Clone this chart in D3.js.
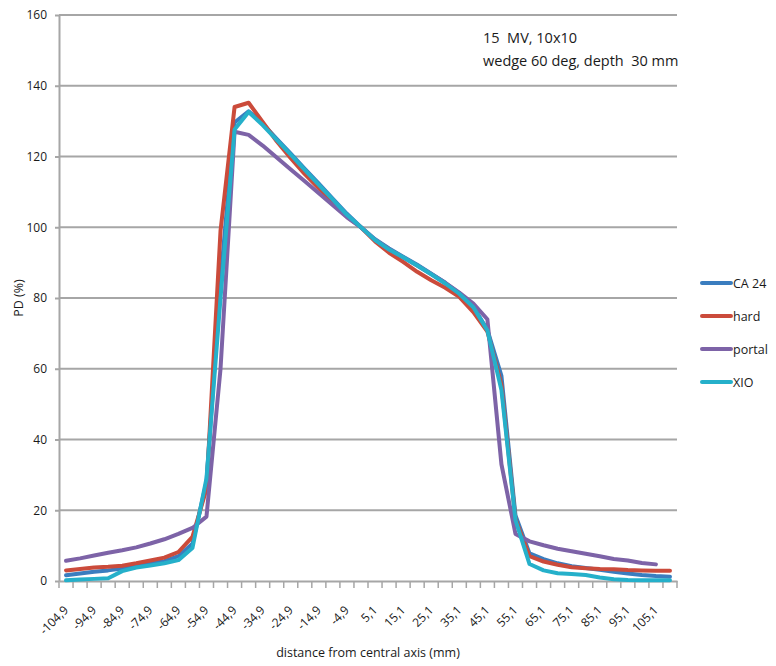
<!DOCTYPE html>
<html>
<head>
<meta charset="utf-8">
<script src="https://cdn.jsdelivr.net/npm/d3@7"></script>
<style>
  body { margin: 0; background: #fff; }
  svg text { font-family: "Open Sans", "Liberation Sans", sans-serif; fill: #1a1a1a; white-space: pre; }
</style>
</head>
<body>
<div id="chart"></div>
<script>
// distances from central axis (mm), every 5 mm
const distances = ["-104,9","-99,9","-94,9","-89,9","-84,9","-79,9","-74,9","-69,9","-64,9","-59,9",
  "-54,9","-49,9","-44,9","-39,9","-34,9","-29,9","-24,9","-19,9","-14,9","-9,9","-4,9",
  "0,1","5,1","10,1","15,1","20,1","25,1","30,1","35,1","40,1","45,1","50,1","55,1",
  "60,1","65,1","70,1","75,1","80,1","85,1","90,1","95,1","100,1","105,1","110,1"];

const ca24 = [1.6,2.1,2.6,3.0,3.5,4.3,5.0,5.6,7.0,10.5,
  28,85,129.6,132.8,129.3,125,120.8,116.5,112.3,108,103.8,
  100,96.6,94,91.7,89.4,86.9,84.3,81.4,77.5,71,58,18.5,
  7.8,6.2,5.0,4.2,3.7,3.2,2.6,2.1,1.7,1.4,1.2];

const hard = [3.0,3.4,3.8,4.0,4.3,5.0,5.8,6.6,8.2,12.5,
  26,99,134,135.2,129.8,124.3,119.5,115,111,107,103,
  100,96,92.8,90.2,87.4,85,82.9,80.3,76,70.5,55.5,17.5,
  7.0,5.5,4.6,3.9,3.6,3.4,3.3,3.1,3.0,2.9,2.9];

const portal = [5.7,6.4,7.2,8.0,8.7,9.5,10.6,11.8,13.3,15.0,
  18.2,60,127,126.1,123.1,119.7,116.3,113,109.6,106.2,102.8,
  100,96.5,93.8,91.5,89.2,86.8,84.3,81.5,78.4,74,33,13.3,
  11.2,10.1,9.1,8.4,7.7,7.0,6.2,5.8,5.1,4.7,null];

const xio = [0.2,0.4,0.6,0.8,2.8,3.8,4.4,5.0,5.9,9.3,
  29,80,127.6,132.6,128.9,124.7,120.5,116.2,112,107.8,103.5,
  100,96.4,93.7,91.5,89.2,86.7,84.1,81.2,77.4,70.8,54,17.2,
  4.8,3.0,2.2,2.0,1.7,1.0,0.5,0.3,0.2,0.2,0.2];

const seriesNames = ["CA 24", "hard", "portal", "XIO"];
const seriesValues = [ca24, hard, portal, xio];
const colours = ["#3a7dbf", "#cb4b3b", "#7d63a7", "#25b0ca"];
const yTicks = [0, 20, 40, 60, 80, 100, 120, 140, 160];

const W = 776, H = 666;
const plot = { left: 59, right: 677, top: 15, bottom: 581 };

const svg = d3.select("#chart").append("svg")
  .attr("width", W)
  .attr("height", H);

const x = d3.scaleBand()
  .domain(distances)
  .range([plot.left, plot.right])
  .padding(0);

const y = d3.scaleLinear()
  .domain([0, 160])
  .range([plot.bottom, plot.top]);

// gridlines
svg.append("g")
  .selectAll("line")
  .data(yTicks.filter(d => d > 0))
  .enter().append("line")
  .attr("x1", plot.left)
  .attr("x2", plot.right)
  .attr("y1", d => y(d))
  .attr("y2", d => y(d))
  .attr("stroke", "#a6a6a6")
  .attr("stroke-width", 2);

// y axis
const yAxis = svg.append("g")
  .attr("transform", `translate(${plot.left},0)`)
  .call(d3.axisLeft(y).tickValues(yTicks).tickSize(4).tickPadding(8).tickSizeOuter(0));
yAxis.select(".domain").attr("stroke", "#a6a6a6").attr("stroke-width", 2);
yAxis.selectAll(".tick line").attr("stroke", "#a6a6a6").attr("stroke-width", 2);
yAxis.selectAll("text").attr("font-size", 12).attr("fill", "#1a1a1a");

// x axis
const xAxis = svg.append("g")
  .attr("transform", `translate(0,${plot.bottom})`)
  .call(d3.axisBottom(x).tickSize(0).tickFormat(""));
xAxis.select(".domain").attr("stroke", "#a6a6a6").attr("stroke-width", 2);

// tick marks between categories
svg.append("g")
  .selectAll("line")
  .data(distances.concat(["end"]))
  .enter().append("line")
  .attr("x1", (d, i) => plot.left + i * x.bandwidth())
  .attr("x2", (d, i) => plot.left + i * x.bandwidth())
  .attr("y1", plot.bottom)
  .attr("y2", plot.bottom + 7)
  .attr("stroke", "#a6a6a6")
  .attr("stroke-width", 1.5);

// rotated category labels, every other one
svg.append("g")
  .selectAll("text")
  .data(distances.filter((d, i) => i % 2 === 0))
  .enter().append("text")
  .attr("transform", d => `translate(${x(d) + x.bandwidth() / 2 + 3},${plot.bottom + 30}) rotate(-45)`)
  .attr("text-anchor", "end")
  .attr("font-size", 12)
  .text(d => d);

// lines
const line = d3.line()
  .defined(d => d.v !== null)
  .x(d => x(d.c) + x.bandwidth() / 2)
  .y(d => y(d.v));

svg.append("g")
  .selectAll("path")
  .data(seriesValues)
  .enter().append("path")
  .attr("fill", "none")
  .attr("stroke", (d, i) => colours[i])
  .attr("stroke-width", 4)
  .attr("stroke-linejoin", "round")
  .attr("stroke-linecap", "round")
  .attr("d", vals => line(vals.map((v, i) => ({ c: distances[i], v: v }))));

// axis titles
svg.append("text")
  .attr("x", (plot.left + plot.right) / 2)
  .attr("y", 657)
  .attr("text-anchor", "middle")
  .attr("font-size", 12.5)
  .text("distance from central axis (mm)");

svg.append("text")
  .attr("transform", `translate(23,${(plot.top + plot.bottom) / 2}) rotate(-90)`)
  .attr("text-anchor", "middle")
  .attr("font-size", 12.5)
  .text("PD (%)");

// annotation
const note = svg.append("text")
  .attr("x", 483)
  .attr("font-size", 14.5);
note.append("tspan").attr("x", 483).attr("y", 43).text("15  MV, 10x10");
note.append("tspan").attr("x", 483).attr("y", 66).text("wedge 60 deg, depth  30 mm");

// legend
const legend = svg.append("g")
  .selectAll("g")
  .data(seriesNames)
  .enter().append("g")
  .attr("transform", (d, i) => `translate(702,${283 + i * 33})`);

legend.append("line")
  .attr("x1", 0).attr("x2", 29)
  .attr("y1", 0).attr("y2", 0)
  .attr("stroke", (d, i) => colours[i])
  .attr("stroke-width", 4)
  .attr("stroke-linecap", "round");

legend.append("text")
  .attr("x", 31)
  .attr("y", 4.5)
  .attr("font-size", 12.5)
  .text(d => d);
</script>
</body>
</html>
